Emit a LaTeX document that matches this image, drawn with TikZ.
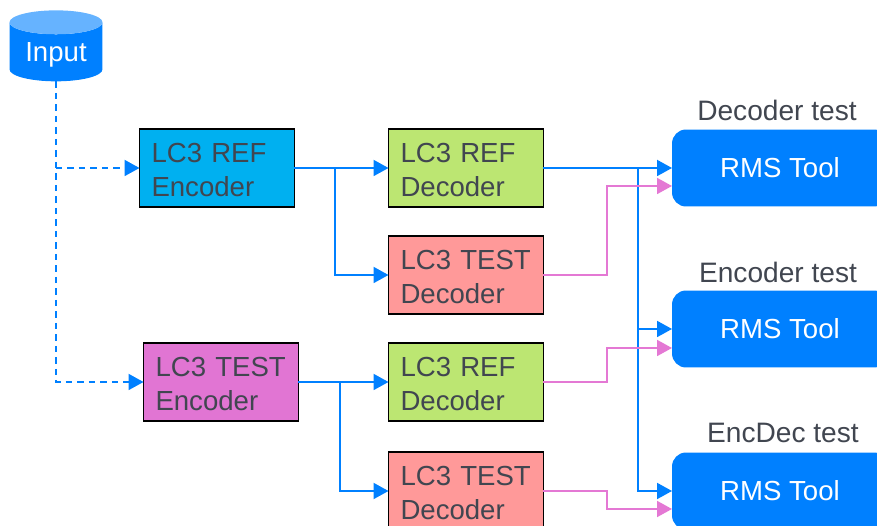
\documentclass[tikz,border=0pt]{standalone}
\usepackage{fontspec}
\setmainfont{Liberation Sans}
\usetikzlibrary{arrows.meta,shapes.geometric}
\definecolor{toolblue}{HTML}{0080FF}
\definecolor{linkpink}{HTML}{E478D4}
\definecolor{darktext}{HTML}{414650}
\definecolor{encrefcol}{HTML}{00B0F0}
\definecolor{enctestcol}{HTML}{E175D3}
\definecolor{decrefcol}{HTML}{BCE672}
\definecolor{dectestcol}{HTML}{FF9999}
\tikzset{
    block/.style={draw=black, line width=1.1pt, outer sep=0pt, inner xsep=0.24cm, inner ysep=0pt,
        text width=2.62cm, minimum height=1.56cm, align=left, text=darktext,
        font=\fontsize{15.7}{19.2}\selectfont, execute at begin node={\rule{0pt}{13pt}}},
    tool/.style={fill=toolblue, text=white, rounded corners=0.28cm, outer sep=0pt, inner sep=0pt,
        minimum width=4.32cm, minimum height=1.54cm, font=\fontsize{15.7}{19}\selectfont},
    title/.style={text=darktext, inner sep=0pt, font=\fontsize{16}{19}\selectfont},
    bluelink/.style={draw=toolblue, line width=1.1pt, -{Triangle[length=0.3cm,width=0.32cm]}},
    dashlink/.style={bluelink, dash pattern=on 0.13cm off 0.1cm},
    pinklink/.style={draw=linkpink, line width=1.1pt, -{Triangle[length=0.3cm,width=0.32cm]}},
}
\begin{document}
\begin{tikzpicture}[x=0.02cm, y=-0.02cm]
    \clip (0,0) rectangle (877,526);

    \node[shape=cylinder, shape border rotate=90, aspect=0.39, cylinder uses custom fill,
        cylinder body fill=toolblue, cylinder end fill=toolblue!60, text=white, outer sep=0pt,
        minimum width=1.86cm, minimum height=1.42cm, inner sep=0pt,
        font=\fontsize{15.7}{19}\selectfont] (input) at (56,52) {\rule{0pt}{14pt}Input};

    \node[block, fill=encrefcol] (encref) at (217,168) {LC3 REF\\Encoder};
    \node[block, fill=enctestcol] (enctest) at (221,382) {LC3 TEST\\Encoder};

    \node[block, fill=decrefcol] (decrefa) at (466,168) {LC3 REF\\Decoder};
    \node[block, fill=dectestcol] (dectesta) at (466,275) {LC3 TEST\\Decoder};
    \node[block, fill=decrefcol] (decrefb) at (466,382) {LC3 REF\\Decoder};
    \node[block, fill=dectestcol] (dectestb) at (466,491) {LC3 TEST\\Decoder};

    \node[tool] (rmsa) at (780,168) {RMS Tool};
    \node[tool] (rmsb) at (780,329) {RMS Tool};
    \node[tool] (rmsc) at (780,491) {RMS Tool};

    \node[title] (titlea) at (777,110) {Decoder test};
    \node[title] (titleb) at (778,272) {Encoder test};
    \node[title] (titlec) at (783,433) {EncDec test};

    % dashed feed from the input
    \coordinate (feed) at (input.south |- encref.west);
    \draw[dashlink] (input.south) |- (enctest.west);
    \draw[dashlink] (feed) -- (encref.west);

    % encoder outputs
    \coordinate (splita) at (335,168);
    \coordinate (splitb) at (340,382);
    \draw[bluelink] (encref.east) -- (decrefa.west);
    \draw[bluelink] (splita) |- (dectesta.west);
    \draw[bluelink] (enctest.east) -- (decrefb.west);
    \draw[bluelink] (splitb) |- (dectestb.west);

    % reference decoder to all three tools
    \coordinate (splitc) at (638,168);
    \draw[bluelink] (decrefa.east) -- (rmsa.west);
    \draw[bluelink] (splitc) |- (rmsb.west);
    \draw[bluelink] (splitc) |- (rmsc.west);

    % outputs under test
    \coordinate (ina) at (672,186);
    \coordinate (inb) at (672,348);
    \coordinate (inc) at (672,509);
    \coordinate (benda) at (607,186);
    \coordinate (bendb) at (607,348);
    \coordinate (bendc) at (607,509);
    \draw[pinklink] (dectesta.east) -| (benda) -- (ina);
    \draw[pinklink] (decrefb.east) -| (bendb) -- (inb);
    \draw[pinklink] (dectestb.east) -| (bendc) -- (inc);
\end{tikzpicture}
\end{document}
